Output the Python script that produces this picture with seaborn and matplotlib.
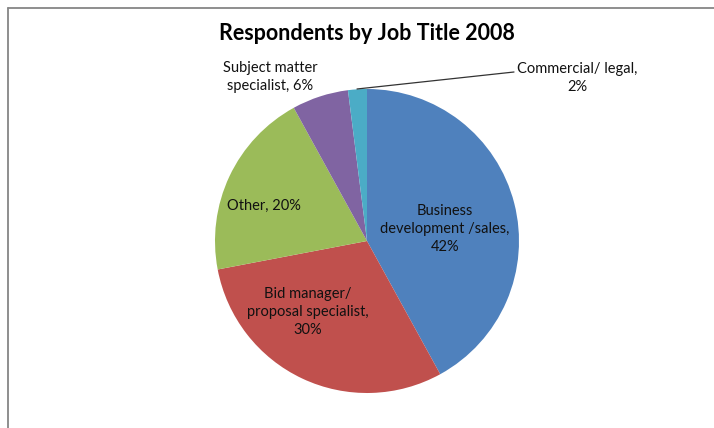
import matplotlib
matplotlib.use("Agg")
import matplotlib.pyplot as plt
from matplotlib.lines import Line2D
import seaborn as sns

# Survey shares by job title
categories = ["Business development /sales", "Bid manager/ proposal specialist",
              "Other", "Subject matter specialist", "Commercial/ legal"]
shares = [42, 30, 20, 6, 2]
label_texts = ["Business\ndevelopment /sales,\n42%",
               "Bid manager/\nproposal specialist,\n30%",
               "Other, 20%",
               "Subject matter\nspecialist, 6%",
               "Commercial/ legal,\n2%"]
title = "Respondents by Job Title 2008"

sns.set_theme(style="white")
plt.rcParams["font.family"] = ["Lato", "DejaVu Sans"]

colors = sns.color_palette(["#4F81BD", "#C0504D", "#9BBB59", "#8064A2", "#4BACC6"])

W, H = 714, 428
fig = plt.figure(figsize=(W / 100, H / 100), dpi=100)
fig.patch.set_facecolor("white")

# pie geometry in pixels (top-left origin)
cx, cy, r = 367, 241, 152
ax = fig.add_axes([(cx - r) / W, (H - cy - r) / H, 2 * r / W, 2 * r / H])
ax.pie(shares, colors=colors, startangle=90, counterclock=False,
       radius=1, wedgeprops=dict(linewidth=0))
ax.set_xlim(-1, 1)
ax.set_ylim(-1, 1)
ax.set_aspect("equal")
ax.axis("off")


def px(x, y):
    return ((x - cx) / r, (cy - y) / r)


# label placements in pixel space
positions = [(445, 229), (308, 312), (264, 206), (270, 77), (577, 78)]
for txt, (x, y) in zip(label_texts, positions):
    dx, dy = px(x, y)
    ax.text(dx, dy, txt, ha="center", va="center", fontsize=10.5,
            color="#111111", linespacing=1.38, clip_on=False)

# leader line for the small slice
x0, y0 = px(357, 89)
x1, y1 = px(514, 72)
ax.add_line(Line2D([x0, x1], [y0, y1], color="#333333", lw=0.9, clip_on=False))

fig.text(367 / W, 1 - 33 / H, title, ha="center", va="center",
         fontsize=15.5, fontweight="bold", color="black")

# chart area frame (top and left edges visible)
fig.add_artist(Line2D([8 / W, 1], [1 - 8 / H, 1 - 8 / H], color="#868686", lw=1.3))
fig.add_artist(Line2D([8 / W, 8 / W], [0, 1 - 8 / H], color="#868686", lw=1.3))

fig.savefig("out.png", dpi=100, facecolor="white")
